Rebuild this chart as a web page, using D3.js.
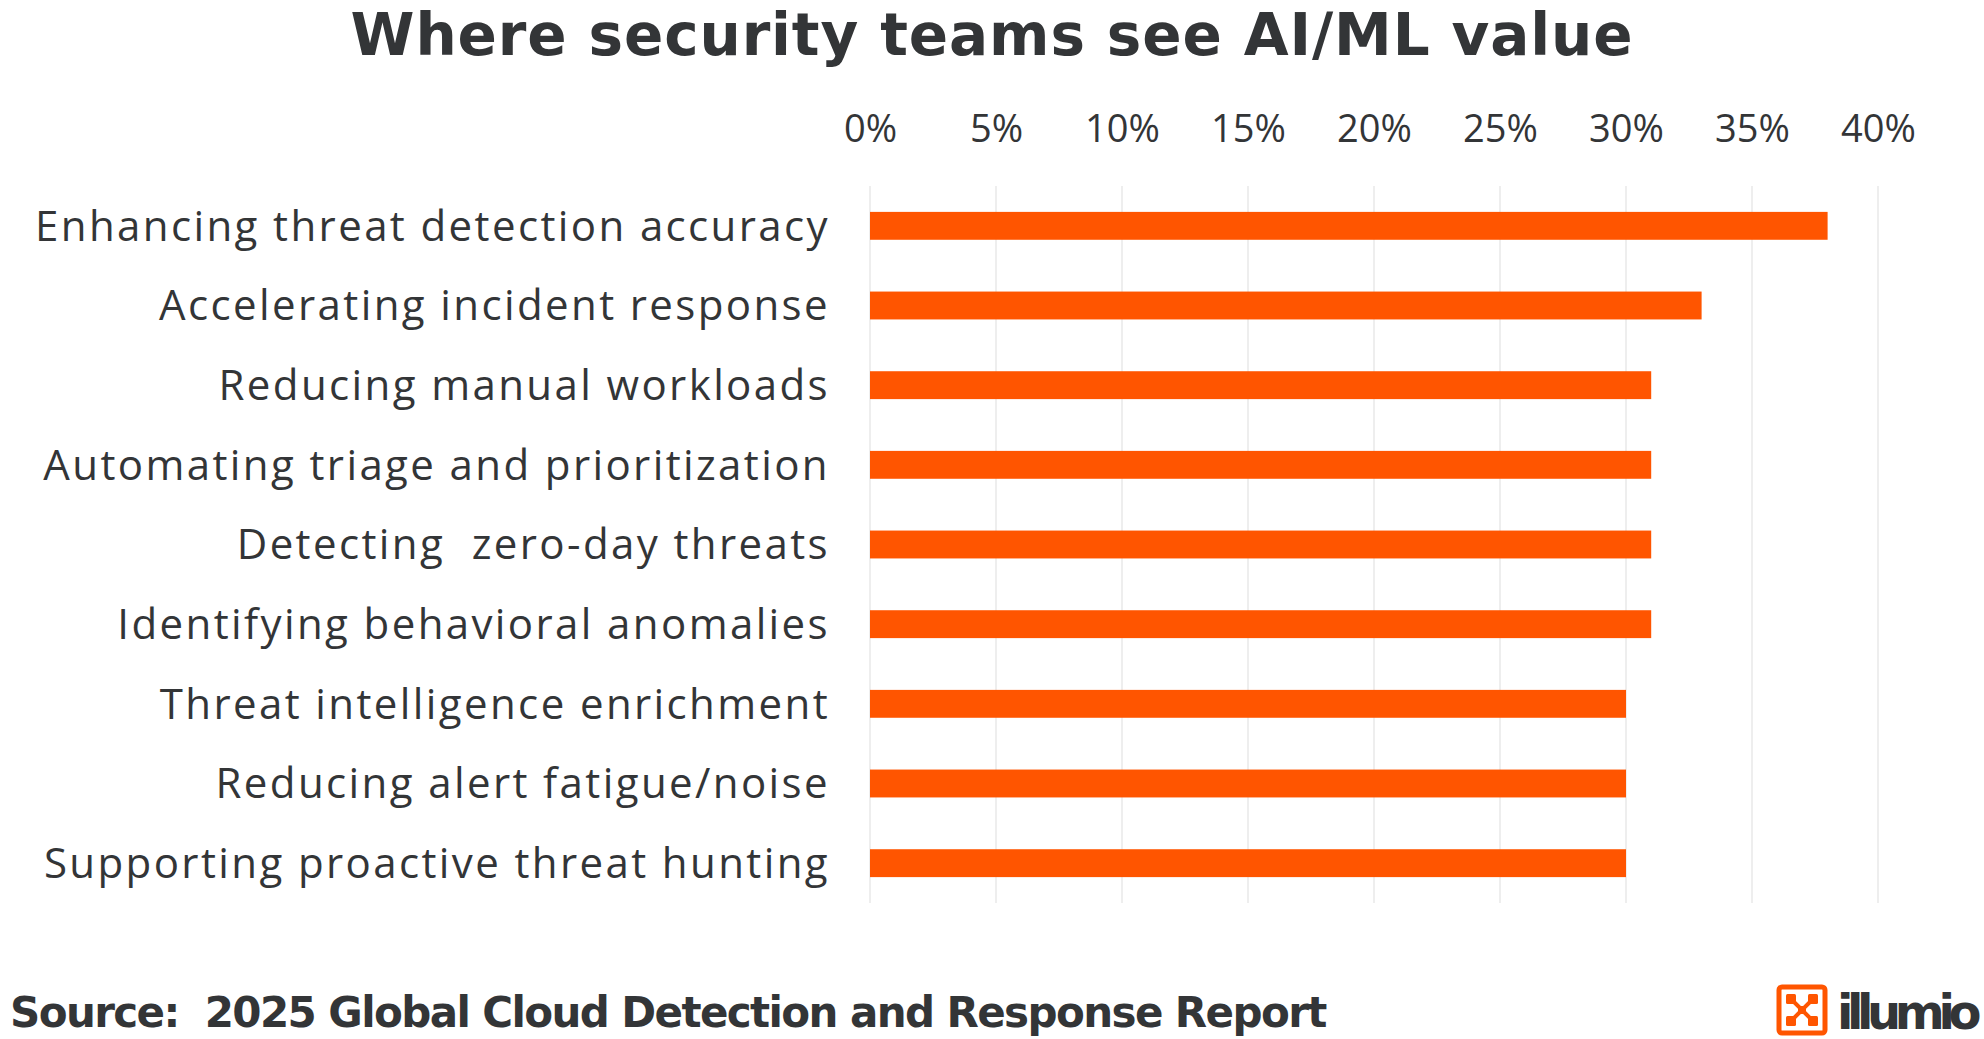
<!DOCTYPE html>
<html>
<head>
<meta charset="utf-8">
<script src="https://cdn.jsdelivr.net/npm/d3@7"></script>
<style>
  html, body { margin: 0; padding: 0; background: #fff; }
  svg { display: block; }
</style>
</head>
<body>
<div id="chart"></div>
<script>
// ---- Data -------------------------------------------------------------------
const categories = [
  "Enhancing threat detection accuracy",
  "Accelerating incident response",
  "Reducing manual workloads",
  "Automating triage and prioritization",
  "Detecting  zero-day threats",
  "Identifying behavioral anomalies",
  "Threat intelligence enrichment",
  "Reducing alert fatigue/noise",
  "Supporting proactive threat hunting"
];
const values = [38, 33, 31, 31, 31, 31, 30, 30, 30];
const tickValues = [0, 5, 10, 15, 20, 25, 30, 35, 40];

const title = "Where security teams see AI/ML value";
const source = "Source:  2025 Global Cloud Detection and Response Report";

// ---- Layout -----------------------------------------------------------------
const width = 1984, height = 1039;
const margin = { top: 186, left: 870, right: 106, bottom: 136 };
const FONT = "'Open Sans', 'DejaVu Sans', sans-serif";
const BOLD = "'DejaVu Sans', 'Open Sans', sans-serif";
const ORANGE = "#ff5500";
const INK = "#333537";

const svg = d3.select("#chart").append("svg")
  .attr("width", width).attr("height", height)
  .attr("viewBox", `0 0 ${width} ${height}`);

const x = d3.scaleLinear().domain([0, 40]).range([margin.left, width - margin.right]);
const y = d3.scaleBand().domain(categories)
  .range([margin.top, height - margin.bottom])
  .paddingInner(0.65).paddingOuter(0.325);

// keep the font size, spread letters so the text hits a target width
function spreadText(sel, target) {
  const node = sel.node();
  const w = node.getComputedTextLength();
  const n = node.getNumberOfChars();
  sel.attr("letter-spacing", ((target - w) / n).toFixed(2));
}

// Title
const t = svg.append("text")
  .attr("x", width / 2).attr("y", 55)
  .attr("text-anchor", "middle")
  .attr("font-family", BOLD).attr("font-weight", 700)
  .attr("font-size", 58).attr("fill", INK)
  .text(title);
spreadText(t, 1283);

// Gridlines
svg.append("g")
  .selectAll("line")
  .data(tickValues)
  .join("line")
  .attr("x1", d => x(d)).attr("x2", d => x(d))
  .attr("y1", margin.top).attr("y2", height - margin.bottom)
  .attr("stroke", "#e3e3e3").attr("stroke-width", 1.2);

// Top axis (labels only)
const xAxis = d3.axisTop(x).tickValues(tickValues).tickFormat(d => d + "%").tickSize(0);
const ax = svg.append("g").attr("transform", `translate(0,129)`).call(xAxis);
ax.select(".domain").remove();
ax.selectAll("text")
  .attr("font-family", FONT).attr("font-size", 38).attr("font-weight", 400)
  .attr("fill", INK).attr("dy", "0.35em").attr("y", 0);

// Bars
svg.append("g")
  .selectAll("rect")
  .data(values)
  .join("rect")
  .attr("x", x(0))
  .attr("y", (d, i) => y(categories[i]))
  .attr("width", d => x(d) - x(0))
  .attr("height", y.bandwidth())
  .attr("fill", ORANGE);

// Category labels
const yAxis = d3.axisLeft(y).tickSize(0).tickPadding(0);
const ay = svg.append("g").attr("transform", `translate(830,0)`).call(yAxis);
ay.select(".domain").remove();
ay.selectAll("text")
  .attr("font-family", FONT).attr("font-size", 42).attr("font-weight", 400)
  .attr("fill", INK).attr("dy", "0.35em")
  .style("white-space", "pre");
// shared letter spacing, taken from the longest label
const longest = ay.selectAll("text").filter(d => d === categories[0]);
spreadText(longest, 795);
ay.selectAll("text").attr("letter-spacing", longest.attr("letter-spacing"));

// Source
const s = svg.append("text")
  .attr("x", 10).attr("y", 1027)
  .attr("font-family", BOLD).attr("font-weight", 700)
  .attr("font-size", 42).attr("fill", INK)
  .style("white-space", "pre")
  .text(source);
spreadText(s, 1316);

// Logo
const logo = svg.append("g").attr("transform", "translate(1777,985)");
logo.append("rect")
  .attr("x", 2).attr("y", 2).attr("width", 46).attr("height", 46)
  .attr("rx", 3).attr("fill", "none").attr("stroke", ORANGE).attr("stroke-width", 5);
logo.append("path")
  .attr("d", "M15,15 L25,25 L35,15 M25,25 L15,35 M25,25 L35,35")
  .attr("stroke", ORANGE).attr("stroke-width", 4).attr("fill", "none");
[[14, 14], [36, 14], [14, 36], [36, 36]].forEach(([cx, cy]) => {
  logo.append("rect").attr("x", cx - 5).attr("y", cy - 5).attr("width", 10).attr("height", 10)
    .attr("rx", 1.5).attr("fill", ORANGE);
});
logo.append("rect").attr("x", 21).attr("y", 21).attr("width", 8).attr("height", 8).attr("fill", ORANGE);
const lt = svg.append("text")
  .attr("x", 1837).attr("y", 1029)
  .attr("font-family", BOLD).attr("font-weight", 700)
  .attr("font-size", 48).attr("fill", INK)
  .text("illumio");
spreadText(lt, 138);
</script>
</body>
</html>
